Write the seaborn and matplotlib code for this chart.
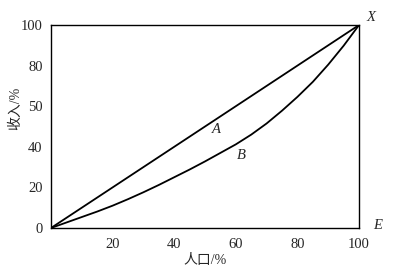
import matplotlib
matplotlib.use("Agg")
import matplotlib.pyplot as plt
import seaborn as sns
import pandas as pd

population = [0, 5, 10, 15, 20, 25, 30, 35, 40, 45, 50, 55, 60, 65, 70, 75, 80, 85, 90, 95, 100]
income_equal = [0, 5, 10, 15, 20, 25, 30, 35, 40, 45, 50, 55, 60, 65, 70, 75, 80, 85, 90, 95, 100]
income_lorenz = [0, 2.7, 5.4, 8.1, 11, 14.2, 17.6, 21.2, 25, 28.8, 32.8, 37, 41.2, 46,
                 51.5, 57.8, 64.6, 72, 80.5, 89.8, 100]
x_ticks = [20, 40, 60, 80, 100]
x_tick_labels = ["20", "40", "60", "80", "100"]
y_ticks = [0, 20, 40, 60, 80, 100]
y_tick_labels = ["0", "20", "40", "50", "80", "100"]

sns.set_style("white")
serif = ["Liberation Serif", "Noto Sans CJK SC"]
plt.rcParams["font.family"] = serif

df = pd.DataFrame({
    "population": population * 2,
    "income": income_equal + income_lorenz,
    "curve": ["equal"] * len(population) + ["lorenz"] * len(population),
})

fig = plt.figure(figsize=(4.08, 2.71), dpi=100)
ax = fig.add_axes([0.125, 0.1587, 0.755, 0.749])
sns.lineplot(data=df, x="population", y="income", units="curve", estimator=None,
             color="black", linewidth=1.3, ax=ax, legend=False)

ax.set_xlim(0, 100)
ax.set_ylim(0, 100)
ax.set_xticks(x_ticks)
ax.set_xticklabels(x_tick_labels, fontsize=10.5)
ax.set_yticks(y_ticks)
ax.set_yticklabels(y_tick_labels, fontsize=10.5)
ax.tick_params(axis="x", direction="in", length=4, width=0.9, pad=7, color="black")
ax.tick_params(axis="y", direction="out", length=4, width=0.9, pad=2, color="black")
for s in ax.spines.values():
    s.set_color("black")
    s.set_linewidth(1.0)

ax.set_xlabel("人口/%", fontsize=10, family=serif)
ax.xaxis.set_label_coords(0.5, -0.13)
ax.set_ylabel("收入/%", fontsize=10, family=serif)
ax.yaxis.set_label_coords(-0.095, 0.59)

ax.text(53.8, 48.6, "A", fontsize=10.5, style="italic", ha="center", va="center")
ax.text(61.9, 35.5, "B", fontsize=10.5, style="italic", ha="center", va="center")
ax.text(103.8, 103.5, "X", fontsize=10.5, style="italic", ha="center", va="center", clip_on=False)
ax.text(106, 1, "E", fontsize=10.5, style="italic", ha="center", va="center", clip_on=False)

fig.savefig("out.png", dpi=100)
